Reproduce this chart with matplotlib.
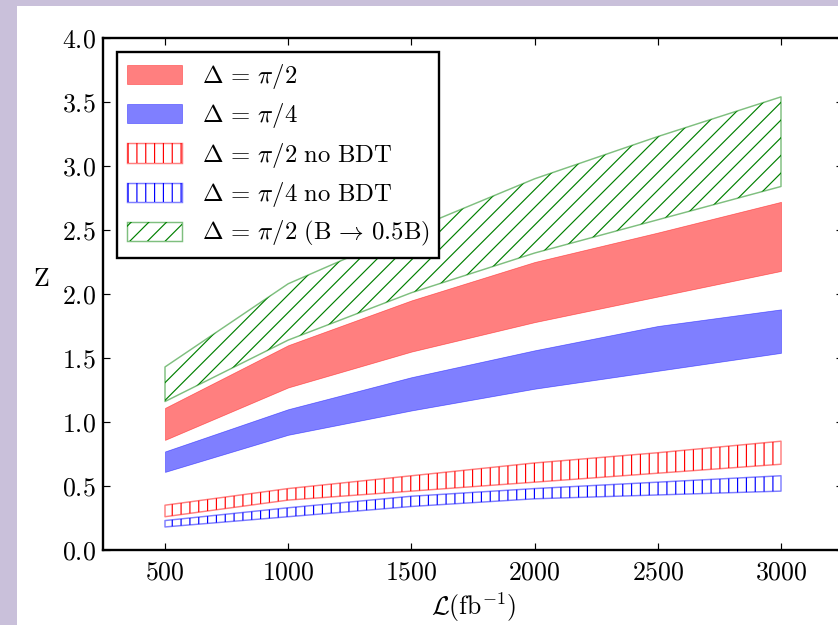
import matplotlib
matplotlib.use("Agg")
import matplotlib.pyplot as plt
from matplotlib.patches import Rectangle

plt.rcParams['font.family'] = 'serif'
plt.rcParams['font.serif'] = ['cmr10', 'DejaVu Serif']
plt.rcParams['mathtext.fontset'] = 'cm'
plt.rcParams['axes.formatter.use_mathtext'] = True
plt.rcParams['hatch.linewidth'] = 0.8

# ---- data ----
lumi = [500, 1000, 1500, 2000, 2500, 3000]
red_hi = [1.11, 1.60, 1.95, 2.25, 2.48, 2.72]
red_lo = [0.86, 1.27, 1.55, 1.78, 1.98, 2.18]
blue_hi = [0.77, 1.10, 1.35, 1.56, 1.75, 1.88]
blue_lo = [0.61, 0.90, 1.09, 1.26, 1.40, 1.54]
red_nb_hi = [0.35, 0.48, 0.58, 0.68, 0.76, 0.85]
red_nb_lo = [0.26, 0.39, 0.46, 0.53, 0.60, 0.67]
blue_nb_hi = [0.23, 0.33, 0.42, 0.48, 0.53, 0.58]
blue_nb_lo = [0.18, 0.26, 0.34, 0.40, 0.43, 0.46]
green_hi = [1.43, 2.08, 2.50, 2.90, 3.23, 3.54]
green_lo = [1.16, 1.64, 2.01, 2.32, 2.58, 2.84]

labels = [r'$\Delta\,=\,\pi/2$', r'$\Delta\,=\,\pi/4$',
          r'$\Delta\,=\,\pi/2\ \mathrm{no\ BDT}$', r'$\Delta\,=\,\pi/4\ \mathrm{no\ BDT}$',
          r'$\Delta\,=\,\pi/2\ (\mathrm{B}\,\rightarrow\,0.5\mathrm{B})$']
xticks = [500, 1000, 1500, 2000, 2500, 3000]
yticks = [0.0, 0.5, 1.0, 1.5, 2.0, 2.5, 3.0, 3.5, 4.0]

W, H, DPI = 838, 625, 106
fig = plt.figure(figsize=(W / DPI, H / DPI), dpi=DPI, facecolor='#C9C0DA')
fig.patches.append(Rectangle((17 / W, 0), 1, 1 - 6 / H, transform=fig.transFigure,
                             facecolor='white', edgecolor='none', zorder=-10))

ax = fig.add_axes([103.4 / W, 1 - 550 / H, (842.6 - 103.4) / W, 512 / H])
ax.set_zorder(1)

fs = 17.5
lfs = 16.8

h1 = ax.fill_between(lumi, red_lo, red_hi, facecolor='r', edgecolor='r', alpha=0.5, lw=0.5)
h2 = ax.fill_between(lumi, blue_lo, blue_hi, facecolor='b', edgecolor='b', alpha=0.5, lw=0.5)

def hatched(lo, hi, col, hatch):
    a = ax.fill_between(lumi, lo, hi, facecolor='none', edgecolor=col, hatch=hatch, lw=0)
    b = ax.fill_between(lumi, lo, hi, facecolor='none', edgecolor=col, alpha=0.5, lw=1.0)
    return a, b

h3 = hatched(red_nb_lo, red_nb_hi, 'r', '||')
h4 = hatched(blue_nb_lo, blue_nb_hi, 'b', '||')
h5 = hatched(green_lo, green_hi, (0, 0.5, 0), '//')

ax.set_xlim(250, 3250)
ax.set_ylim(0, 4.0)
ax.set_xticks(xticks)
ax.set_yticks(yticks)
ax.tick_params(direction='in', length=5, width=0.8, top=True, right=True,
               labelsize=fs)
ax.tick_params(axis='x', pad=7)
ax.tick_params(axis='y', pad=5)
for s in ax.spines.values():
    s.set_linewidth(1.6)

ax.set_ylabel('Z', fontsize=fs, rotation=0)
ax.yaxis.set_label_coords(-0.084, 0.53)
ax.yaxis.label.set_va('center')
ax.set_xlabel(r'$\mathcal{L}(\mathrm{fb}^{-1})$', fontsize=fs)
ax.xaxis.set_label_coords(0.501, -0.111)
ax.xaxis.label.set_va('center')

leg = ax.legend([h1, h2, h3, h4, h5], labels, loc='upper left',
                bbox_to_anchor=(0.0184, 0.9727), borderaxespad=0, fontsize=lfs,
                handlelength=2.22, handleheight=0.82, handletextpad=0.8,
                labelspacing=0.42, borderpad=0.4, fancybox=False, framealpha=1)
leg.get_frame().set_edgecolor('black')
leg.get_frame().set_linewidth(1.6)

fig.savefig('out.png', dpi=DPI, facecolor=fig.get_facecolor())
